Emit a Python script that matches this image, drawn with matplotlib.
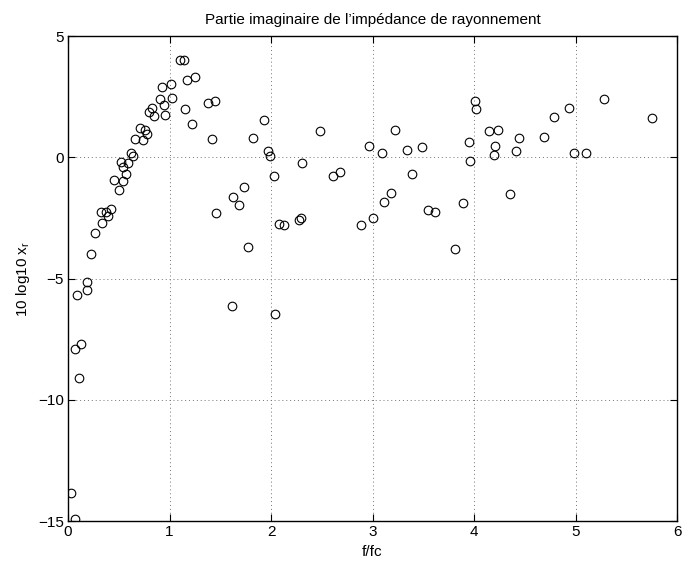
import matplotlib.pyplot as plt
import numpy as np

# normalised frequency f/fc
f_ratio = np.array([
    0.031, 0.071, 0.064, 0.123, 0.113,
    0.087, 0.185, 0.189, 0.228, 0.261, 0.337, 0.320, 0.376, 0.392, 0.419,
    0.452, 0.498, 0.540, 0.524, 0.540, 0.573, 0.589, 0.622, 0.645, 0.655,
    0.714, 0.737, 0.754, 0.777, 0.793, 0.826, 0.845, 0.908, 0.924, 0.944,
    0.954, 1.010, 1.026, 1.105, 1.138, 1.170, 1.250, 1.150, 1.217, 1.381,
    1.446, 1.414, 1.456, 1.630, 1.680, 1.732, 1.778, 1.614, 1.929, 1.969,
    1.988, 1.821, 2.034, 2.044,
    2.080, 2.130, 2.274, 2.300, 2.304, 2.485, 2.609, 2.675, 2.885, 3.003,
    2.968, 3.092, 3.224, 3.115, 3.180, 3.335, 3.486, 3.390, 3.550,
    3.618, 3.815, 3.894, 3.949, 3.963, 4.005, 4.022, 4.143, 4.238, 4.202,
    4.192, 4.350, 4.412, 4.445, 4.694, 4.783, 4.931, 4.984, 5.105, 5.276,
    5.750,
])

# 10*log10 of the imaginary radiation impedance
xr_db = np.array([
    -13.86, -14.92, -7.92, -7.69, -9.12,
    -5.68, -5.16, -5.45, -3.99, -3.10, -2.70, -2.26, -2.24, -2.41, -2.11,
    -0.95, -1.35, -0.99, -0.18, -0.39, -0.70, -0.22, 0.19, 0.07, 0.78,
    1.22, 0.71, 1.12, 0.98, 1.88, 2.02, 1.70, 2.39, 2.91, 2.17,
    1.74, 3.02, 2.46, 4.00, 4.00, 3.19, 3.32, 1.99, 1.36, 2.24,
    2.31, 0.78, -2.29, -1.63, -1.97, -1.23, -3.69, -6.13, 1.55, 0.26,
    0.06, 0.81, -0.76, -6.45,
    -2.74, -2.79, -2.58, -2.51, -0.25, 1.07, -0.76, -0.62, -2.79, -2.51,
    0.49, 0.19, 1.14, -1.82, -1.45, 0.30, 0.45, -0.70, -2.18,
    -2.26, -3.78, -1.86, 0.64, -0.16, 2.33, 2.00, 1.11, 1.15, 0.49,
    0.11, -1.49, 0.27, 0.81, 0.84, 1.67, 2.02, 0.20, 0.19, 2.42,
    1.63,
])

xticks = [0, 1, 2, 3, 4, 5, 6]
yticks = [-15, -10, -5, 0, 5]
yticklabels = ['\u221215', '\u221210', '\u22125', '0', '5']

plt.rcParams['font.family'] = ['Liberation Sans', 'DejaVu Sans']
plt.rcParams['font.size'] = 11

fig = plt.figure(figsize=(6.85, 5.66), dpi=100)
ax = fig.add_axes([0.0993, 0.0795, 0.8891, 0.8565])

ax.plot(f_ratio, xr_db, 'o', markerfacecolor='none', markeredgecolor='k',
        markersize=6.2, markeredgewidth=0.8)

ax.set_xlim(0, 6)
ax.set_ylim(-15, 5)
ax.set_xticks(xticks)
ax.set_yticks(yticks)
ax.set_yticklabels(yticklabels)
ax.tick_params(direction='in', top=True, right=True, length=5, width=0.8,
               labelsize=11, pad=3)
ax.grid(True, linestyle=(0, (1, 3)), color='0.45', linewidth=0.7)
for s in ax.spines.values():
    s.set_linewidth(1.0)

ax.set_title("Partie imaginaire de l\u2019impédance de rayonnement", fontsize=11, pad=9)
ax.set_xlabel("f/fc", labelpad=4)
ax.set_ylabel("10 log10 x$_\\mathregular{r}$", labelpad=4)

fig.savefig("out.png", dpi=100)
